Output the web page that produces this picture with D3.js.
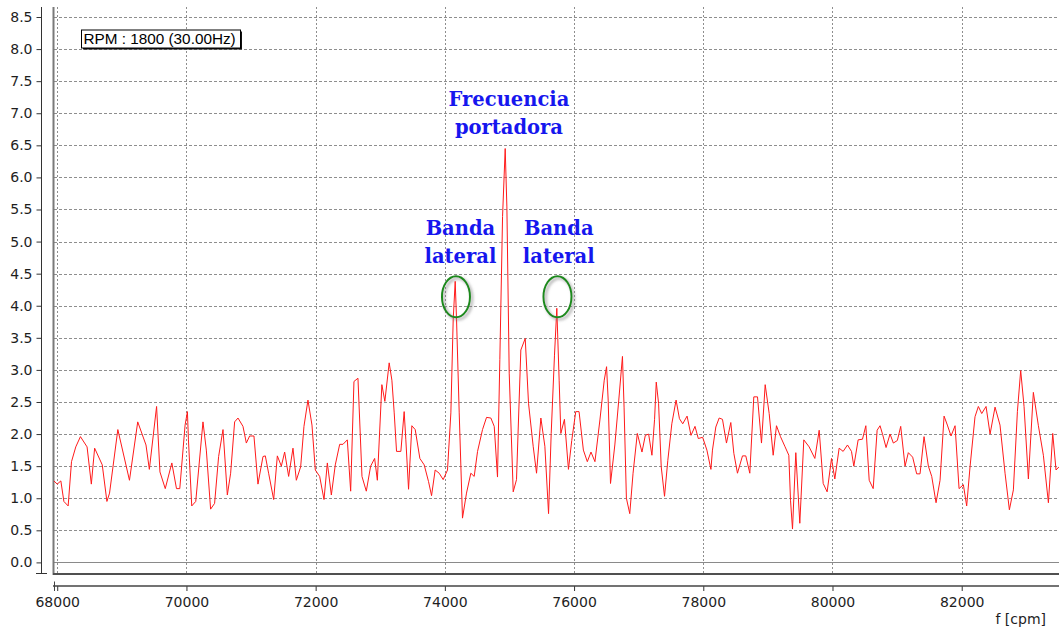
<!DOCTYPE html>
<html><head><meta charset="utf-8">
<script src="https://cdn.jsdelivr.net/npm/d3@7"></script>
<style>body{margin:0;background:#fff;overflow:hidden}svg{display:block}</style>
</head><body>
<svg id="chart" width="1059" height="630"></svg>
<script>
// ---- data ----
const freqs = [
 67949,68000,68056,68103,68169,68221,68287,68359,68462,68528,68579,68697,68769,68810,68938,69118,69246,69374,69426,69538,69590,69672,69774,69846,69897,69979,70015,70031,70082,70144,70256,70308,70374,70436,
 70498,70566,70633,70684,70746,70798,70875,70927,70978,71045,71107,71185,71221,71272,71350,71407,71469,71520,71582,71649,71701,71768,71819,71881,71943,71995,72062,72129,72181,72243,72304,72372,72423,72490,72542,72593,72655,72717,72784,72851,72913,72955,
 73025,73071,73138,73180,73216,73252,73319,73370,73396,73438,73489,73541,73613,73680,73747,73794,73850,73912,73974,74041,74093,74129,74160,74181,74222,74273,74335,74402,74454,74506,74583,74645,74712,74764,74815,74851,74893,74934,74960,74996,75058,75109,75176,75244,75295,75367,75419,75486,75548,
 75605,75646,75697,75733,75769,75795,75851,75913,75964,76026,76077,76144,76205,76262,76323,76400,76467,76503,76528,76564,76631,76692,76749,76774,76810,76862,76913,76979,77051,77103,77154,77205,77246,77272,77308,77349,77400,77451,77513,77579,77631,77682,77749,77810,77872,77923,77990,78056,78118,
 78142,78194,78246,78297,78359,78426,78473,78529,78607,78658,78720,78782,78839,78901,78958,79020,79082,79133,79195,79262,79324,79350,79381,79432,79494,79556,79639,79727,79794,79856,79917,79985,80036,80103,80165,80232,80294,80330,80397,80464,80516,80568,80630,80691,
 80736,80777,80829,80891,80942,81004,81056,81123,81174,81241,81303,81355,81417,81484,81536,81603,81665,81727,81778,81835,81897,81959,82026,82077,82129,82206,82258,82310,82377,82439,82516,82593,82671,82738,82800,82862,82913,82965,83032,83109,83187,83264,83342,83378,83409,83460,83507
];
const amps = [
 1.27,1.22,1.27,0.95,0.88,1.57,1.80,1.96,1.80,1.22,1.78,1.52,0.95,1.08,2.07,1.28,2.19,1.83,1.45,2.43,1.41,1.15,1.55,1.15,1.15,2.14,2.35,1.91,0.88,0.95,2.19,1.75,0.83,0.92,
 1.65,2.07,1.05,1.39,2.19,2.25,2.12,1.86,1.97,1.97,1.22,1.65,1.66,1.39,0.98,1.66,1.50,1.72,1.34,1.78,1.28,1.49,2.12,2.53,2.14,1.44,1.34,0.98,1.55,1.05,1.52,1.84,1.84,1.91,1.11,2.82,2.87,1.34,1.11,1.50,1.62,1.28,
 2.77,2.51,3.11,2.84,2.33,1.73,1.73,2.35,1.91,1.14,2.13,2.07,1.62,1.52,1.26,1.04,1.44,1.39,1.29,1.44,2.33,3.78,4.38,3.78,2.33,0.69,1.08,1.39,1.34,1.73,2.07,2.26,2.25,2.12,1.33,3.16,5.39,6.45,5.54,2.95,1.10,1.29,3.31,3.49,2.48,1.81,1.39,2.25,1.81,
 0.76,2.01,3.23,3.96,2.84,2.01,2.23,1.45,1.90,2.35,2.35,1.75,1.57,1.72,1.57,2.22,2.84,3.05,2.53,1.23,1.83,2.53,3.21,2.42,1.00,0.76,1.39,2.01,1.72,1.98,2.00,1.67,2.23,2.81,2.48,1.49,1.03,1.59,2.16,2.53,2.24,2.16,2.28,1.98,2.12,1.93,1.95,1.75,1.45,
 1.75,2.11,2.25,2.23,1.86,2.18,1.70,1.39,1.66,1.66,1.39,2.58,2.58,1.86,2.77,2.32,1.67,2.13,1.96,1.81,1.67,0.97,0.52,1.71,0.61,1.91,1.80,1.62,2.06,1.23,1.10,1.62,1.30,1.78,1.73,1.83,1.73,1.50,1.91,1.92,2.13,1.28,1.15,2.06,
 2.13,1.99,1.79,2.00,1.86,1.90,2.12,1.50,1.71,1.64,1.38,1.38,1.96,1.50,1.34,0.93,1.28,2.28,2.14,1.97,2.13,1.15,1.21,0.88,1.49,2.27,2.43,2.32,2.43,2.00,2.42,2.14,1.39,0.82,1.13,2.35,2.99,2.43,1.30,2.65,2.13,1.67,0.93,1.49,2.01,1.44,1.49
];
const yTicks = [0,0.5,1,1.5,2,2.5,3,3.5,4,4.5,5,5.5,6,6.5,7,7.5,8,8.5];
const xTicks = [68000,70000,72000,74000,76000,78000,80000,82000];
const xLabel = "f [cpm]";
const rpmLabel = "RPM : 1800 (30.00Hz)";
const noteTexts = [["Frecuencia","portadora"],["Banda","lateral"],["Banda","lateral"]];
const noteFreqs = [74992, 74241, 75763];
const noteValues = [7.11, 5.11, 5.11];
const ringFreqs = [74172, 75743];
const ringValues = [4.14, 4.14];

// ---- drawing ----
const W = 1059, H = 630;
const svg = d3.select("#chart");
const L = 54, R = W, T = 7, B = 574;
const x = d3.scaleLinear().domain([67950, 83506]).range([L, R]);
const y = d3.scaleLinear().domain([0, 8.5]).range([562.4, 17]);

const defs = svg.append("defs");
defs.append("clipPath").attr("id","clip").append("rect")
  .attr("x", L).attr("y", T).attr("width", R - L).attr("height", B - T);
const sh = defs.append("filter").attr("id","shadow").attr("x","-30%").attr("y","-30%").attr("width","160%").attr("height","160%");
sh.append("feDropShadow").attr("dx",2).attr("dy",2).attr("stdDeviation",1.6).attr("flood-color","#777").attr("flood-opacity",0.7);

// grid
const grid = svg.append("g");
grid.selectAll("line.h").data(yTicks.filter(d => d > 0)).join("line")
  .attr("x1", L).attr("x2", R)
  .attr("y1", d => Math.round(y(d)) + 0.5).attr("y2", d => Math.round(y(d)) + 0.5)
  .attr("stroke", "#8e8e8e").attr("stroke-dasharray", "3,2").attr("stroke-width", 1);
grid.selectAll("line.v").data(xTicks).join("line")
  .attr("y1", T).attr("y2", B)
  .attr("x1", d => Math.round(x(d)) + 0.5).attr("x2", d => Math.round(x(d)) + 0.5)
  .attr("stroke", "#8e8e8e").attr("stroke-dasharray", "2,2").attr("stroke-width", 1);
// zero line
svg.append("line").attr("x1", L).attr("x2", R)
  .attr("y1", Math.round(y(0)) + 0.5).attr("y2", Math.round(y(0)) + 0.5)
  .attr("stroke", "#8a8a8a").attr("stroke-width", 1);

// frame lines
svg.append("line").attr("x1", 53.5).attr("x2", 53.5).attr("y1", T).attr("y2", B + 1)
  .attr("stroke", "#7a7a7a").attr("stroke-width", 2);
svg.append("line").attr("x1", 53).attr("x2", R).attr("y1", 574).attr("y2", 574)
  .attr("stroke", "#505050").attr("stroke-width", 2);

// y axis
const yAxis = svg.append("g").attr("transform", "translate(41.5,0)")
  .call(d3.axisLeft(y).tickValues(yTicks).tickFormat(d3.format(".1f")).tickSize(5).tickPadding(4).tickSizeOuter(0));
yAxis.select(".domain").remove();
yAxis.selectAll(".tick line").attr("stroke", "#333");
yAxis.selectAll("text").attr("font-family", "DejaVu Sans").attr("font-size", 14).attr("fill", "#1e1e1e");
svg.append("line").attr("x1", 41.5).attr("x2", 41.5).attr("y1", T).attr("y2", 573.5).attr("stroke", "#333");
svg.append("line").attr("x1", 36).attr("x2", 47).attr("y1", 573.5).attr("y2", 573.5).attr("stroke", "#333");

// x axis
const xAxis = svg.append("g").attr("transform", "translate(0,586)")
  .call(d3.axisBottom(x).tickValues(xTicks).tickFormat(d3.format("d")).tickSize(5).tickPadding(6).tickSizeOuter(0));
xAxis.select(".domain").remove();
xAxis.selectAll(".tick line").attr("stroke", "#333");
xAxis.selectAll("text").attr("font-family", "DejaVu Sans").attr("font-size", 14).attr("fill", "#1e1e1e");
svg.append("line").attr("x1", 53).attr("x2", R).attr("y1", 586).attr("y2", 586).attr("stroke", "#444").attr("stroke-width", 1.5);
svg.append("line").attr("x1", 54.5).attr("x2", 54.5).attr("y1", 581.5).attr("y2", 591).attr("stroke", "#444");
svg.append("text").attr("x", 1046).attr("y", 624).attr("text-anchor", "end")
  .attr("font-family", "DejaVu Sans").attr("font-size", 14).attr("fill", "#1e1e1e").text(xLabel);

// spectrum line
const pts = freqs.map((f, i) => [f, amps[i]]);
svg.append("path").datum(pts).attr("clip-path", "url(#clip)")
  .attr("d", d3.line().x(d => x(d[0])).y(d => y(d[1])))
  .attr("fill", "none").attr("stroke", "#ff1a1a").attr("stroke-width", 1).attr("stroke-linejoin", "round");

// RPM box
const bx = 81, by = 29.5, bw = 159, bh = 18;
svg.append("rect").attr("x", bx + 2).attr("y", by + 2).attr("width", bw).attr("height", bh).attr("fill", "#111");
svg.append("rect").attr("x", bx + 0.5).attr("y", by + 0.5).attr("width", bw).attr("height", bh)
  .attr("fill", "#fff").attr("stroke", "#000").attr("stroke-width", 1);
svg.append("text").attr("x", bx + 2.5).attr("y", 43.5)
  .attr("font-family", "Liberation Sans").attr("font-size", 15.3).attr("fill", "#000").text(rpmLabel);

// ellipses around sidebands
svg.append("g").selectAll("ellipse").data(ringFreqs).join("ellipse")
  .attr("cx", d => x(d)).attr("cy", (d, i) => y(ringValues[i]))
  .attr("rx", 14).attr("ry", 20.5)
  .attr("fill", "none").attr("stroke", "#1f8a1f").attr("stroke-width", 2)
  .attr("filter", "url(#shadow)");

// annotation labels
const notes = svg.append("g");
noteTexts.forEach((lines, i) => {
  const t = notes.append("text").attr("text-anchor", "middle")
    .attr("font-family", "DejaVu Serif").attr("font-weight", "bold").attr("font-size", 19.5)
    .attr("fill", "#1616ee");
  lines.forEach((s, j) => {
    t.append("tspan").attr("x", x(noteFreqs[i])).attr("y", y(noteValues[i]) + j * 28).text(s);
  });
});
</script>
</body></html>
